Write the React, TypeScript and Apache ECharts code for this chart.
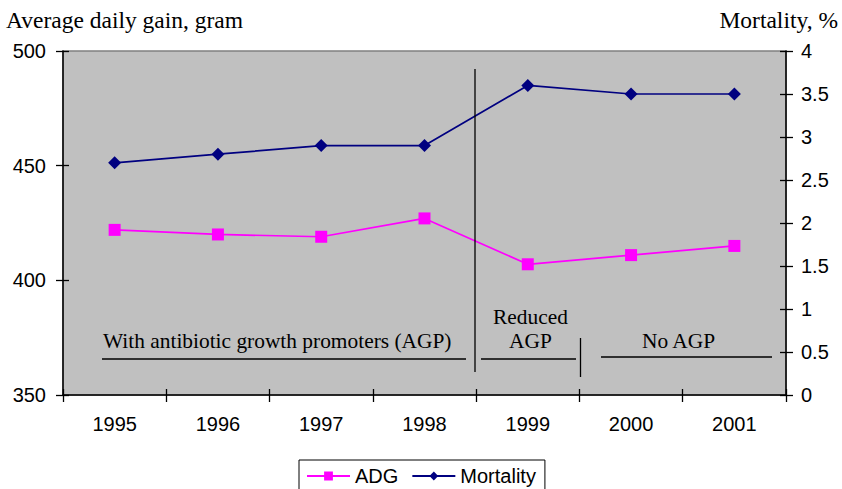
import React, { useEffect, useRef } from 'react';
import * as echarts from 'echarts';

const years = ['1995', '1996', '1997', '1998', '1999', '2000', '2001'];
const adg = [422, 420, 419, 427, 407, 411, 415];
const mortality = [2.7, 2.8, 2.9, 2.9, 3.6, 3.5, 3.5];
const leftAxisTitle = 'Average daily gain, gram';
const rightAxisTitle = 'Mortality, %';
const periodAGP = 'With antibiotic growth promoters (AGP)';
const periodReduced1 = 'Reduced';
const periodReduced2 = 'AGP';
const periodNone = 'No AGP';

const SANS = '"Liberation Sans", Arial, sans-serif';
const SERIF = '"Liberation Serif", "Times New Roman", serif';

const GRID = { left: 63, right: 56, top: 51, bottom: 94 };

function serifText(text: string, x: number, y: number, size: number, align: string) {
  return {
    type: 'text',
    x,
    y,
    z: 100,
    style: {
      text,
      x: 0,
      y: 0,
      font: `${size}px ${SERIF}`,
      fill: '#000',
      textAlign: align,
      align,
      textVerticalAlign: 'middle',
      verticalAlign: 'middle',
    },
  };
}

function seg(x1: number, y1: number, x2: number, y2: number) {
  return {
    type: 'line',
    z: 100,
    shape: { x1, y1, x2, y2 },
    style: { stroke: '#000', lineWidth: 1.3 },
  };
}

export default function App() {
  const ref = useRef<HTMLDivElement>(null);
  useEffect(() => {
    if (!ref.current) return;
    const chart = echarts.init(ref.current, undefined, { renderer: 'svg' });
    const axisLine = { show: true, lineStyle: { color: '#000', width: 1.5 } };
    const outTick = { show: true, inside: false, length: 7, lineStyle: { color: '#000', width: 1.3 } };
    const inTick = { show: true, inside: true, length: 6, lineStyle: { color: '#000', width: 1.3 } };
    const label = { color: '#000', fontSize: 20, fontFamily: SANS };
    chart.setOption({
      animation: false,
      backgroundColor: '#fff',
      grid: [
        { ...GRID, show: true, backgroundColor: '#c0c0c0', borderColor: '#808080', borderWidth: 1.5, containLabel: false },
        { ...GRID, show: false, containLabel: false },
      ],
      xAxis: [
        {
          type: 'category',
          gridIndex: 0,
          data: years,
          boundaryGap: true,
          axisLine,
          axisTick: outTick,
          axisLabel: { ...label, margin: 19 },
          splitLine: { show: false },
        },
        {
          type: 'category',
          gridIndex: 1,
          data: years,
          boundaryGap: true,
          axisLine: { show: false },
          axisTick: inTick,
          axisLabel: { show: false },
          splitLine: { show: false },
        },
      ],
      yAxis: [
        {
          type: 'value',
          gridIndex: 0,
          position: 'left',
          min: 350,
          max: 500,
          interval: 50,
          axisLine,
          axisTick: outTick,
          axisLabel: { ...label, margin: 17 },
          splitLine: { show: false },
        },
        {
          type: 'value',
          gridIndex: 0,
          position: 'right',
          min: 0,
          max: 4,
          interval: 0.5,
          axisLine,
          axisTick: outTick,
          axisLabel: { ...label, margin: 15 },
          splitLine: { show: false },
        },
        {
          type: 'value',
          gridIndex: 1,
          position: 'left',
          min: 350,
          max: 500,
          interval: 50,
          axisLine: { show: false },
          axisTick: inTick,
          axisLabel: { show: false },
          splitLine: { show: false },
        },
        {
          type: 'value',
          gridIndex: 1,
          position: 'right',
          min: 0,
          max: 4,
          interval: 0.5,
          axisLine: { show: false },
          axisTick: inTick,
          axisLabel: { show: false },
          splitLine: { show: false },
        },
      ],
      legend: {
        left: 299,
        top: 460,
        orient: 'horizontal',
        itemWidth: 43,
        itemHeight: 11,
        itemGap: 13,
        padding: [6, 9, 6, 7],
        borderColor: '#000',
        borderWidth: 1,
        backgroundColor: '#fff',
        textStyle: { color: '#000', fontSize: 20, fontFamily: SANS },
        data: ['ADG', 'Mortality'],
      },
      series: [
        {
          name: 'ADG',
          type: 'line',
          xAxisIndex: 0,
          yAxisIndex: 0,
          data: adg,
          symbol: 'rect',
          symbolSize: 12,
          color: '#ff00ff',
          lineStyle: { color: '#ff00ff', width: 1.7 },
          itemStyle: { color: '#ff00ff' },
          z: 3,
        },
        {
          name: 'Mortality',
          type: 'line',
          xAxisIndex: 0,
          yAxisIndex: 1,
          data: mortality,
          symbol: 'diamond',
          symbolSize: 13,
          color: '#000080',
          lineStyle: { color: '#000080', width: 1.7 },
          itemStyle: { color: '#000080' },
          z: 3,
        },
      ],
      graphic: [
        serifText(leftAxisTitle, 6, 19.5, 23.5, 'left'),
        serifText(rightAxisTitle, 838, 19.5, 23.5, 'right'),
        serifText(periodAGP, 103, 340.5, 21.4, 'left'),
        serifText(periodReduced1, 530.5, 316.5, 21.4, 'center'),
        serifText(periodReduced2, 530.5, 340.5, 21.4, 'center'),
        serifText(periodNone, 678.5, 340.5, 21.4, 'center'),
        seg(475, 69, 475, 372),
        seg(580.5, 338, 580.5, 377),
        seg(102, 359, 466, 359),
        seg(481, 359, 576, 359),
        seg(601, 357, 772, 357),
      ],
    });
    return () => chart.dispose();
  }, []);
  return (
    <div
      ref={ref}
      style={{ position: 'fixed', left: 0, top: 0, width: 842, height: 489, background: '#fff' }}
    />
  );
}
